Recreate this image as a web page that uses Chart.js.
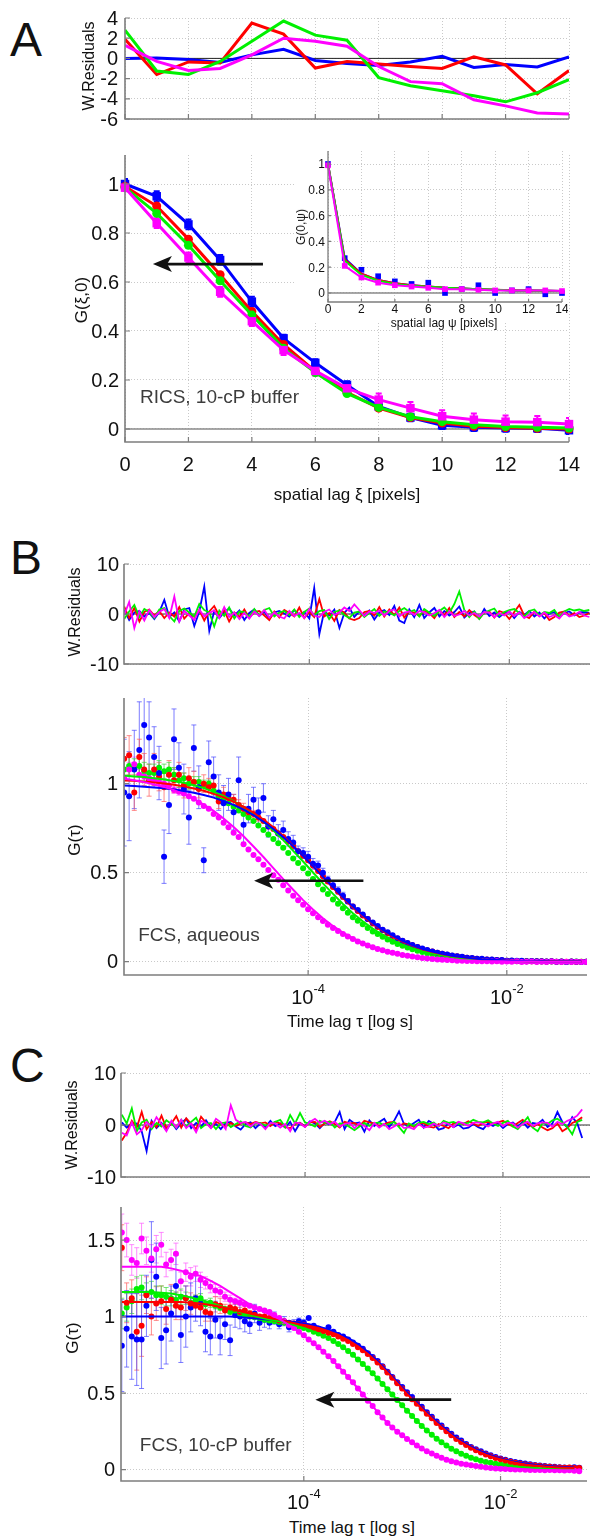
<!DOCTYPE html>
<html><head><meta charset="utf-8">
<script src="https://cdn.jsdelivr.net/npm/chart.js@4.4.1/dist/chart.umd.min.js"></script>
<style>
html,body{margin:0;padding:0;background:#fff}
body{width:591px;height:1538px;position:relative;overflow:hidden;font-family:"Liberation Sans",Arial,sans-serif}
canvas{position:absolute}
.t{position:absolute;white-space:nowrap;color:#111;z-index:5;line-height:1}
.r{transform:translate(-50%,-50%) rotate(-90deg)}
.h{transform:translate(-50%,-50%)}
.L{position:absolute;font-size:48px;line-height:1;color:#111;left:10px}
</style></head><body>
<div class="L" style="top:16px">A</div>
<div class="L" style="top:534px">B</div>
<div class="L" style="top:1042px">C</div>
<div class="t r" style="left:89px;top:66px;font-size:16px">W.Residuals</div>
<div class="t r" style="left:81px;top:300px;font-size:17px">G(ξ,0)</div>
<div class="t h" style="left:347px;top:494px;font-size:17px">spatial lag ξ [pixels]</div>
<div class="t r" style="left:301px;top:227px;font-size:12px">G(0,ψ)</div>
<div class="t h" style="left:444px;top:323px;font-size:12px">spatial lag ψ [pixels]</div>
<div class="t r" style="left:75px;top:612px;font-size:16px">W.Residuals</div>
<div class="t r" style="left:74px;top:840px;font-size:17px">G(τ)</div>
<div class="t h" style="left:350px;top:1021px;font-size:17px">Time lag τ [log s]</div>
<div class="t r" style="left:72px;top:1125px;font-size:16px">W.Residuals</div>
<div class="t r" style="left:72px;top:1338px;font-size:17px">G(τ)</div>
<div class="t h" style="left:352px;top:1527px;font-size:17px">Time lag τ [log s]</div>
<script>
// ---------- Panel A: RICS ----------
const xsA = [0,1,2,3,4,5,6,7,8,9,10,11,12,13,14];
const rABlue  = [0,0.05,-0.1,-0.4,0.35,0.9,-0.2,-0.5,-0.7,-0.35,0.2,-0.9,-0.6,-0.85,0.15];
const rARed   = [1.9,-1.6,-0.35,-0.45,3.5,2.4,-0.95,-0.3,-0.55,-0.8,-1.0,0.15,-0.65,-3.5,-1.2];
const rAGreen = [2.8,-1.25,-1.6,-0.3,1.7,3.7,2.3,1.8,-1.9,-2.7,-3.2,-3.7,-4.3,-3.4,-2.1];
const rAMag   = [1.3,-0.3,-1.2,-1.0,0.35,2.0,1.7,1.2,-0.8,-2.3,-2.5,-4.1,-4.7,-5.4,-5.5];
const aBlue  = [1.0,0.95,0.835,0.69,0.52,0.37,0.27,0.18,0.092,0.047,0.015,0.007,0.004,0.003,-0.005];
const aRed   = [0.99,0.91,0.775,0.63,0.48,0.345,0.235,0.15,0.085,0.047,0.024,0.011,0.006,0.003,0.0];
const aGreen = [0.985,0.88,0.75,0.605,0.465,0.33,0.23,0.145,0.088,0.05,0.03,0.017,0.01,0.007,0.004];
const aMag   = [0.985,0.84,0.70,0.56,0.44,0.322,0.237,0.166,0.12,0.085,0.052,0.038,0.03,0.028,0.02];
const eABlue = [0.02,0.02,0.02,0.02,0.02,0.015,0.015,0.015,0.015,0.015,0.015,0.015,0.015,0.015,0.015];
const eAMag  = [0.015,0.02,0.02,0.02,0.02,0.02,0.02,0.02,0.025,0.025,0.025,0.025,0.025,0.025,0.025];
const inBlueM  = [1.0,0.27,0.18,0.13,0.09,0.07,0.08,0.0,0.03,0.06,0.0,0.02,0.03,-0.01,0.0];
const inBlueL  = [1.0,0.27,0.15,0.10,0.075,0.06,0.05,0.04,0.035,0.03,0.025,0.02,0.02,0.018,0.015];
const inRedL   = [1.0,0.26,0.15,0.10,0.075,0.06,0.05,0.04,0.035,0.03,0.025,0.022,0.02,0.018,0.015];
const inGreenL = [1.0,0.25,0.14,0.095,0.07,0.057,0.048,0.04,0.035,0.03,0.025,0.02,0.02,0.018,0.015];
const inMag    = [0.99,0.21,0.12,0.08,0.06,0.05,0.04,0.03,0.03,0.025,0.02,0.02,0.02,0.02,0.015];

// ---------- FCS lag times (s) ----------
const tau = [1.41e-6,1.58e-6,1.78e-6,2.00e-6,2.24e-6,2.51e-6,2.82e-6,3.16e-6,3.55e-6,3.98e-6,
 4.47e-6,5.01e-6,5.62e-6,6.31e-6,7.08e-6,7.94e-6,8.91e-6,1.00e-5,
 1.12e-5,1.26e-5,1.41e-5,1.58e-5,1.78e-5,2.00e-5,2.24e-5,2.51e-5,2.82e-5,3.16e-5,3.55e-5,3.98e-5,4.47e-5,5.01e-5,5.62e-5,6.31e-5,7.08e-5,7.94e-5,8.91e-5,
 1.00e-4,1.12e-4,1.26e-4,1.41e-4,1.58e-4,1.78e-4,2.00e-4,2.24e-4,2.51e-4,2.82e-4,3.16e-4,3.55e-4,3.98e-4,4.47e-4,5.01e-4,5.62e-4,6.31e-4,7.08e-4,7.94e-4,8.91e-4,
 1.00e-3,1.12e-3,1.26e-3,1.41e-3,1.58e-3,1.78e-3,2.00e-3,2.24e-3,2.51e-3,2.82e-3,3.16e-3,3.55e-3,3.98e-3,4.47e-3,5.01e-3,5.62e-3,6.31e-3,7.08e-3,7.94e-3,8.91e-3,
 1.00e-2,1.12e-2,1.26e-2,1.41e-2,1.58e-2,1.78e-2,2.00e-2,2.24e-2,2.51e-2,2.82e-2,3.16e-2,3.55e-2,3.98e-2,4.47e-2,5.01e-2,5.62e-2,6.31e-2];
const tauFit = [1.41e-6,1.78e-6,2.24e-6,2.82e-6,3.55e-6,4.47e-6,5.62e-6,7.08e-6,8.91e-6,
 1.12e-5,1.41e-5,1.78e-5,2.24e-5,2.82e-5,3.55e-5,4.47e-5,5.62e-5,7.08e-5,8.91e-5,
 1.12e-4,1.41e-4,1.78e-4,2.24e-4,2.82e-4,3.55e-4,4.47e-4,5.62e-4,7.08e-4,8.91e-4,
 1.12e-3,1.41e-3,1.78e-3,2.24e-3,2.82e-3,3.55e-3,4.47e-3,5.62e-3,7.08e-3,8.91e-3,
 1.12e-2,1.41e-2,1.78e-2,2.24e-2,2.82e-2,3.55e-2,4.47e-2,5.62e-2];

// ---------- Panel B: FCS aqueous ----------
const gBBlue = [0.95,0.93,1.08,1.19,1.33,1.26,1.15,1.06,0.59,0.88,
 1.25,1.09,0.97,0.81,1.20,0.98,0.57,1.12,1.04,0.95,
 0.89,0.94,0.84,1.02,0.77,0.86,0.91,0.84,0.92,0.76,
 0.80,0.72,0.74,0.69,0.67,0.62,0.61,0.59,0.55,0.54,
 0.50,0.46,0.43,0.40,0.37,0.34,0.31,0.29,0.265,0.24,
 0.22,0.20,0.18,0.165,0.148,0.132,0.118,0.105,0.094,0.083,
 0.074,0.066,0.058,0.051,0.045,0.040,0.035,0.031,0.028,0.022,
 0.021,0.017,0.016,0.013,0.012,0.010,0.009,0.006,0.007,0.005,
 0.006,0.003,0.004,0.002,0.003,0.001,0.002,0.0,0.001,-0.001,
 0.001,0.0,-0.001,0.0];
const eBBlue = [0.3,0.25,0.22,0.27,0.26,0.2,0.17,0.15,0.15,0.16,0.17,0.14,0.14,0.15,0.13,0.12,0.07,0.12,0.11,0.1,
 0.1,0.09,0.1,0.13,0.1,0.08,0.07,0.08,0.08,0.06,0.05,0.05,0.05,0.04,0.04,0.03,0.03,0.03,0.03,0.025,0.025,0.02,0.02,0.02,0.02,0.015];
const gBRed = [1.14,1.16,0.95,1.15,1.08,1.02,1.08,1.04,0.98,1.05,
 1.02,1.05,0.99,1.03,1.01,0.97,1.0,0.98,0.99,0.90,
 0.94,0.92,0.91,0.88,0.86,0.84,0.83,0.81,0.79,0.76,
 0.745,0.72,0.70,0.675,0.65,0.62,0.595,0.57,0.54,0.51,
 0.48,0.45,0.42,0.395,0.365,0.34,0.31,0.285,0.26,0.24,
 0.215,0.195,0.177,0.16,0.145,0.13,0.116,0.103,0.092,0.082,
 0.072,0.064,0.057,0.05,0.044,0.039,0.034,0.03,0.026,0.022,
 0.02,0.017,0.014,0.013,0.011,0.009,0.008,0.006,0.006,0.004,
 0.004,0.003,0.003,0.002,0.002,0.001,0.002,0.0,0.001,0.0,
 0.001,-0.001,0.0,0.0];
const eBRed = [0.12,0.11,0.1,0.1,0.09,0.09,0.09,0.08,0.08,0.08,0.07,0.07,0.07,0.06,0.06,0.05,0.05,0.05,0.04,0.04,0.04,0.03,0.03,0.03,0.03,0.02,0.02,0.02];
const gBGreen = [1.08,1.10,1.09,1.10,1.07,1.06,1.06,1.09,1.07,1.08,
 1.05,1.02,1.03,1.0,1.01,1.01,0.99,1.0,0.96,0.93,
 0.91,0.89,0.87,0.85,0.83,0.81,0.79,0.765,0.74,0.715,
 0.69,0.665,0.64,0.61,0.58,0.555,0.525,0.495,0.465,0.435,
 0.405,0.38,0.35,0.325,0.30,0.275,0.25,0.23,0.21,0.19,
 0.17,0.155,0.14,0.125,0.112,0.10,0.09,0.08,0.07,0.062,
 0.055,0.048,0.042,0.037,0.033,0.029,0.025,0.022,0.019,0.016,
 0.014,0.012,0.010,0.009,0.007,0.006,0.005,0.005,0.004,0.003,
 0.003,0.002,0.002,0.001,0.001,0.0,0.001,0.0,0.0,-0.001,
 0.0,0.001,0.0,0.0];
const eBGreen = [0.06,0.06,0.05,0.05,0.05,0.05,0.05,0.04,0.04,0.04,0.04,0.04,0.03,0.03,0.03,0.03,0.03,0.02,0.02,0.02];
const gBMag = [1.03,1.08,1.11,1.05,1.04,1.03,1.02,1.01,1.0,0.99,
 0.965,0.955,0.945,0.93,0.915,0.895,0.875,0.86,0.83,0.81,
 0.78,0.755,0.725,0.70,0.66,0.63,0.60,0.575,0.545,0.515,
 0.485,0.46,0.43,0.40,0.37,0.345,0.32,0.295,0.272,0.25,
 0.228,0.208,0.19,0.172,0.156,0.141,0.127,0.114,0.102,0.091,
 0.081,0.072,0.064,0.056,0.05,0.044,0.038,0.033,0.029,0.025,
 0.021,0.018,0.015,0.013,0.011,0.009,0.008,0.006,0.005,0.004,
 0.004,0.003,0.002,0.003,0.001,0.002,0.0,0.001,0.0,0.002,
 -0.001,0.0,0.001,-0.002,0.0,-0.001,0.001,0.0,-0.002,0.0,
 -0.001,0.0,-0.002,-0.001];
const eBMag = [0.04,0.04,0.04,0.03,0.03,0.03,0.03,0.03,0.02,0.02,0.02,0.02];
const fBBlue = [0.990,0.987,0.983,0.979,0.974,0.968,0.959,0.949,0.937,0.922,0.903,0.881,0.854,0.823,0.787,0.746,0.700,0.649,0.594,0.537,
 0.478,0.420,0.364,0.311,0.262,0.218,0.179,0.146,0.117,0.093,0.073,0.057,0.044,0.034,0.026,0.019,0.014,0.011,0.008,0.006,
 0.004,0.003,0.002,0.0015,0.001,0.001,0.0005];
const fBRed = [1.018,1.016,1.011,1.007,1.001,0.994,0.985,0.973,0.96,0.943,0.924,0.899,0.870,0.837,0.798,0.755,0.706,0.652,0.594,0.536,
 0.475,0.415,0.358,0.305,0.255,0.212,0.174,0.141,0.113,0.090,0.070,0.055,0.042,0.032,0.025,0.019,0.013,0.010,0.007,0.005,
 0.004,0.003,0.002,0.002,0.001,0.001,0.001];
const fBGreen = [1.046,1.041,1.037,1.031,1.024,1.015,1.005,0.991,0.975,0.954,0.931,0.902,0.869,0.83,0.787,0.737,0.683,0.623,0.563,0.501,
 0.44,0.381,0.324,0.272,0.227,0.186,0.151,0.121,0.096,0.076,0.059,0.046,0.035,0.027,0.020,0.015,0.011,0.008,0.006,0.004,
 0.003,0.002,0.002,0.001,0.001,0.001,0.0];
const fBMag = [1.028,1.02,1.009,0.996,0.982,0.964,0.941,0.915,0.883,0.847,0.805,0.757,0.705,0.647,0.588,0.526,0.464,0.404,0.346,0.293,
 0.244,0.201,0.164,0.133,0.106,0.084,0.066,0.051,0.039,0.030,0.022,0.017,0.013,0.010,0.006,0.005,0.003,0.002,0.002,0.001,
 0.001,0.001,0,0,0,0,0];
const rBBlue = [0.8,-1.2,0.3,0.6,-0.5,0.2,-1.0,0.4,2.8,-0.6, 0.3,-1.5,0.9,1.2,-2.4,0.5,5.5,-3.4,0.6,-0.8,
 0.4,1.1,-0.3,0.7,-1.2,0.2,0.9,-0.4,0.5,-1.0, 0.3,0.6,0.1,-0.5,0.8,-0.2,0.4,-0.9,5.2,-4.0,
 0.6,-0.3,0.9,-2.8,0.2,1.3,-0.6,0.5,-0.4,0.7, -1.1,0.3,0.8,-0.2,1.6,-1.3,-1.8,0.9,-0.6,1.8,
 -0.8,0.3,1.2,-0.5,0.6,-0.3,0.4,1.5,-0.7,0.2, 0.5,-0.9,1.0,-0.4,0.3,-0.6,0.2,0.5,-0.8,0.4,
 -0.2,0.6,-0.5,0.3,-0.9,0.1,0.4,-0.6,0.2,0.5, -0.3,0.3,0.4,0.2];
const rBRed = [1.5,-0.8,1.2,-1.5,0.4,0.9,-0.3,0.6,-0.8,0.3, -0.5,1.4,-0.9,0.2,-0.6,0.8,-1.3,0.5,1.6,-0.4,
 0.7,-1.5,0.3,-0.6,0.9,-0.8,0.4,0.6,-0.3,-1.2, 0.5,-0.7,0.8,0.2,-0.5,1.3,-0.8,0.4,-0.6,3.0,
 -0.5,0.2,-1.4,0.8,0.3,-0.9,-1.2,-0.8,0.4,0.6, -0.3,1.4,-0.5,0.9,-0.2,1.3,-0.7,0.5,0.3,-0.4,
 0.6,0.2,-0.8,0.7,-0.3,1.2,-0.6,0.4,-0.5,0.8, -0.2,-0.9,0.3,0.5,-0.7,0.6,0.2,-1.0,0.4,1.8,
 -0.3,-0.8,0.5,-0.4,0.2,-1.2,-0.6,0.3,0.5,-0.4, 0.2,-0.6,-0.3,0.2];
const rBGreen = [-1.0,0.5,1.8,-0.6,1.0,0.4,-0.8,0.9,1.2,-0.4, -1.5,0.6,1.1,0.3,-0.5,2.0,0.8,0.3,-2.5,0.7,
 -0.4,1.3,-0.9,0.5,0.4,-0.6,1.0,-0.3,0.8,1.2, -0.5,0.3,0.6,-0.2,0.9,-0.6,0.4,1.1,-0.3,0.6,
 0.8,-1.0,0.4,0.7,-0.2,-0.8,0.3,0.5,-0.6,0.2, 1.0,-0.4,0.5,0.3,-0.3,0.6,1.2,0.4,0.8,-0.5,
 1.0,0.3,-0.4,0.6,1.3,0.2,2.0,4.5,0.8,-0.6, 0.5,-1.0,0.3,0.7,1.1,-0.3,0.4,0.8,1.0,0.2,
 -0.5,0.6,0.9,-0.3,0.4,0.2,0.8,-0.6,0.5,1.0, 0.7,0.9,0.6,0.8];
const rBMag = [-0.2,2.4,-2.8,0.5,-1.3,0.8,-0.6,0.4,1.0,-0.8, 3.5,-1.5,0.6,-0.3,-1.2,0.9,-0.5,0.2,0.7,-0.8,
 1.4,-0.6,0.3,-1.0,0.2,-0.9,0.5,-0.4,0.8,-0.7, 0.3,-0.5,-0.9,0.6,-0.4,0.2,-0.8,1.0,-0.3,-0.6,
 0.4,0.9,-0.2,0.3,1.3,0.6,1.9,0.8,-0.4,0.5, 0.2,0.7,-0.3,0.6,0.9,-0.5,0.3,0.5,-0.2,0.6,
 0.4,-0.3,0.2,0.8,-0.6,0.5,-0.4,-0.1,0.6,-0.3, 0.2,-0.5,0.4,0.3,-0.6,0.2,-0.3,0.5,-0.4,0.3,
 -0.8,-0.2,0.4,-0.5,0.3,-0.6,-0.2,-0.9,0.3,-0.5, -0.2,0.4,-0.3,-0.6];

// ---------- Panel C: FCS 10-cP buffer ----------
const gCBlue = [0.81,0.92,0.87,0.85,0.85,1.07,1.37,1.26,0.86,0.91,
 1.02,1.20,0.88,1.0,1.06,1.12,1.09,0.90,0.87,0.98,
 0.87,0.95,0.845,1.01,1.0,0.97,0.95,1.02,0.96,0.98,
 0.96,0.99,0.95,0.97,0.93,0.95,0.97,0.96,0.99,0.94,
 0.92,0.91,0.93,0.90,0.88,0.87,0.85,0.83,0.81,0.79,
 0.76,0.735,0.71,0.675,0.64,0.605,0.57,0.54,0.505,0.475,
 0.44,0.41,0.375,0.345,0.315,0.288,0.26,0.235,0.21,0.19,
 0.168,0.148,0.133,0.12,0.105,0.094,0.083,0.073,0.065,0.057,
 0.05,0.045,0.04,0.035,0.03,0.027,0.024,0.02,0.018,0.015,
 0.014,0.012,0.016,0.012];
const eCBlue = [0.3,0.25,0.28,0.3,0.32,0.2,0.25,0.22,0.2,0.22,0.18,0.2,0.18,0.2,0.16,0.15,0.15,0.13,0.12,0.12,
 0.12,0.1,0.1,0.08,0.08,0.07,0.06,0.06,0.05,0.05,0.04,0.04,0.03,0.03,0.03,0.03,0.02,0.02];
const gCRed = [1.45,1.09,1.12,0.90,0.94,1.14,1.0,1.085,1.10,1.05,
 1.11,1.07,1.06,1.12,1.085,1.07,1.06,1.03,1.02,1.08,
 1.07,1.04,1.06,1.05,1.03,1.04,1.02,1.01,1.0,1.0,
 0.99,0.985,0.975,0.97,0.96,0.955,0.95,0.945,0.935,0.925,
 0.915,0.905,0.895,0.885,0.87,0.855,0.84,0.82,0.80,0.78,
 0.755,0.73,0.70,0.67,0.635,0.60,0.565,0.53,0.495,0.46,
 0.43,0.40,0.365,0.335,0.305,0.278,0.25,0.225,0.20,0.18,
 0.16,0.142,0.126,0.112,0.098,0.087,0.076,0.067,0.059,0.051,
 0.045,0.039,0.034,0.03,0.026,0.023,0.02,0.018,0.016,0.014,
 0.012,0.014,0.011,0.01];
const eCRed = [0.15,0.13,0.12,0.25,0.2,0.12,0.12,0.11,0.1,0.1,0.1,0.09,0.08,0.08,0.07,0.07,0.06,0.06,0.05,0.05,0.05,0.04,0.04,0.03,0.03,0.03,0.02];
const gCGreen = [1.02,1.06,1.10,1.18,1.19,1.15,1.16,1.14,1.14,1.13,
 1.12,1.11,1.13,1.12,1.09,1.10,1.12,1.08,1.09,1.07,
 1.06,1.05,1.03,1.04,1.02,1.01,1.0,0.995,0.99,0.98,
 0.975,0.97,0.965,0.96,0.955,0.945,0.935,0.925,0.915,0.90,
 0.89,0.875,0.86,0.84,0.82,0.80,0.775,0.75,0.72,0.69,
 0.66,0.63,0.595,0.56,0.525,0.49,0.455,0.42,0.385,0.35,
 0.318,0.285,0.255,0.228,0.202,0.178,0.157,0.137,0.12,0.104,
 0.09,0.078,0.068,0.058,0.05,0.044,0.038,0.033,0.028,0.024,
 0.021,0.018,0.015,0.013,0.011,0.009,0.008,0.006,0.005,0.005,
 0.004,0.003,0.003,0.002];
const eCGreen = [0.1,0.09,0.08,0.08,0.08,0.07,0.07,0.06,0.06,0.06,0.05,0.05,0.05,0.04,0.04,0.04,0.03,0.03,0.03,0.02,0.02];
const gCMag = [1.55,1.50,1.37,1.35,1.51,1.43,1.38,1.44,1.47,1.34,
 1.37,1.41,1.23,1.29,1.26,1.28,1.24,1.22,1.195,1.17,
 1.16,1.13,1.11,1.10,1.09,1.08,1.07,1.06,1.05,1.04,
 1.03,1.01,0.99,0.97,0.945,0.925,0.90,0.878,0.85,0.825,
 0.80,0.77,0.74,0.71,0.675,0.64,0.605,0.57,0.53,0.49,
 0.45,0.415,0.375,0.34,0.305,0.275,0.248,0.225,0.2,0.178,
 0.157,0.138,0.12,0.105,0.09,0.077,0.065,0.055,0.046,0.039,
 0.033,0.028,0.023,0.018,0.014,0.011,0.008,0.006,0.004,0.003,
 0.001,0.0,-0.001,-0.002,-0.003,-0.002,-0.004,-0.003,-0.005,-0.004,
 -0.006,-0.005,-0.008,-0.01];
const eCMag = [0.12,0.11,0.1,0.1,0.1,0.09,0.09,0.09,0.08,0.08,0.07,0.07,0.06,0.06,0.06,0.05,0.05,0.04,0.04,0.04,0.03,0.03,0.03,0.02,0.02];
const fCBlue = [1,1,1,1,1,1,1,1,1,1,1,1,
 0.995,0.99,0.985,0.98,0.975,0.97,0.96,0.95,0.935,0.915,0.89,0.86,0.82,0.77,0.71,0.645,0.575,0.505,0.44,0.375,
 0.315,0.26,0.21,0.168,0.133,0.105,0.083,0.065,0.05,0.04,0.031,0.025,0.02,0.016,0.013];
const fCRed = [1.096,1.096,1.096,1.096,1.096,1.096,1.096,
 1.09,1.085,1.075,1.065,1.05,1.035,1.02,1.005,0.99,0.98,0.965,0.95,0.94,0.925,0.905,0.88,0.845,0.805,0.755,0.70,
 0.635,0.565,0.495,0.43,0.365,0.305,0.25,0.2,0.16,0.126,0.098,0.076,0.059,0.045,0.034,0.026,0.02,0.016,0.012,0.011];
const fCGreen = [1.16,1.16,1.16,1.16,
 1.155,1.15,1.14,1.125,1.11,1.09,1.07,1.05,1.03,1.01,0.995,0.98,0.97,0.955,0.935,0.915,0.89,0.86,0.82,0.775,
 0.72,0.66,0.595,0.525,0.455,0.385,0.318,0.255,0.202,0.157,0.12,0.09,0.068,0.05,0.038,0.028,0.021,0.015,0.011,0.008,
 0.005,0.004,0.003];
const fCMag = [1.325,1.325,1.325,1.325,1.325,
 1.315,1.30,1.28,1.265,1.235,1.20,1.16,1.12,1.08,1.045,1.015,0.985,0.945,0.90,0.85,0.80,0.74,0.675,0.605,0.53,
 0.455,0.375,0.305,0.248,0.2,0.157,0.12,0.09,0.065,0.046,0.033,0.023,0.015,0.008,0.005,0.002,0.0,-0.001,-0.002,-0.003,
 -0.004,-0.005];
const rCBlue = [0.5,-0.5,0.2,0.3,-1.2,-5.0,0.8,-0.6,0.4,-1.0, 0.5,-0.8,0.3,1.2,-0.6,0.4,-0.3,0.9,-0.5,0.2,
 -0.8,0.4,0.6,-0.3,-0.9,0.2,0.5,-0.6,0.3,-0.4, 0.8,-0.2,0.3,-0.5,0.6,-1.2,0.4,-0.3,0.7,0.3,
 -0.6,0.4,0.2,0.6,2.5,-0.8,1.0,0.3,0.5,-1.3, 0.9,-0.2,0.6,1.2,-0.4,0.8,2.6,0.2,-0.3,0.4,
 1.0,-0.5,0.8,0.2,-0.9,-0.6,0.3,-0.4,0.1,-0.7, -0.5,0.2,-0.4,-0.8,0.3,-0.2,0.4,-0.6,0.2,0.5,
 -0.3,0.6,-0.5,0.4,0.2,1.0,-0.4,0.3,2.5,0.6, -0.5,1.5,0.4,-2.5];
const rCRed = [-3.0,-1.5,0.8,-0.5,2.5,-0.8,0.6,-0.4,1.8,-0.6, 0.3,1.7,-0.5,1.3,0.2,-0.8,1.6,0.4,-0.5,0.6,
 0.2,-0.3,0.4,-0.2,0.3,0.5,0.2,0.6,0.3,0.5, -0.2,0.6,0.3,-0.4,-0.6,0.2,0.4,-0.3,0.5,0.6,
 -0.4,0.3,0.7,0.2,-0.5,0.6,0.3,0.4,-0.2,0.8, 0.5,0.3,-0.3,0.2,0.5,0.6,-0.2,0.3,0.1,-0.4,
 0.2,0.4,-0.3,-0.5,0.2,-0.2,-0.6,0.3,0.5,0.2, 0.7,0.3,-0.2,0.4,0.6,0.3,0.5,0.8,0.2,-0.3,
 0.4,1.0,0.3,-0.4,0.2,-0.5,-1.0,-0.6,0.3,-1.2, -0.6,0.4,0.8,1.5];
const rCGreen = [2.0,0.3,3.2,-1.2,0.5,1.0,-0.8,0.4,-0.3,0.9, 0.2,-0.5,1.0,-0.3,0.6,1.4,-0.6,0.2,0.4,-0.8,
 0.3,0.5,-0.4,0.2,0.7,-0.2,-0.5,0.4,0.3,-0.1, 0.2,0.6,1.0,-0.4,1.9,0.3,2.3,0.5,0.2,-0.3,
 0.8,0.4,0.6,-0.5,0.3,0.2,-0.4,-1.0,-0.3,0.4, -0.2,0.3,0.5,-0.1,0.2,0.6,-0.4,-1.5,0.3,-0.2,
 0.4,0.6,0.2,0.5,-0.3,0.8,0.4,0.6,0.2,0.3, 0.4,1.0,0.6,0.5,0.9,0.3,-0.2,0.4,0.8,-0.3,
 -0.8,0.3,1.5,-0.5,-1.2,0.4,0.2,0.9,1.2,0.5, -0.4,-1.8,0.6,1.0];
const rCMag = [-1.5,-2.0,0.5,-1.8,-1.0,0.6,-0.4,1.5,0.2,-1.2, 0.8,-0.5,1.0,-0.6,0.3,-1.4,0.8,0.4,-0.6,1.2,
 0.5,-0.8,3.8,1.0,0.4,0.6,-0.3,0.5,0.2,-0.8, 0.4,0.3,-0.5,0.2,-1.2,0.5,0.3,-0.4,0.6,1.2,
 0.4,0.8,0.2,0.6,-0.3,0.2,0.4,-0.6,0.3,-0.2, -1.0,0.4,-0.5,0.2,-0.8,-0.3,0.3,-0.6,-0.4,-0.8,
 0.2,-0.5,-0.3,0.3,-0.2,0.5,0.2,-0.4,0.6,0.3, -0.2,0.4,0.5,0.2,-0.3,0.3,0.6,-0.2,0.4,0.3,
 -0.5,0.2,0.6,-0.2,0.3,0.5,0.4,-0.3,0.6,0.2, 0.8,1.2,1.8,3.0];

// ---------- tick values ----------
const ticksA = [0,2,4,6,8,10,12,14];
const ticksRA = [-6,-4,-2,0,2,4];
const ticksG01 = [0,0.2,0.4,0.6,0.8,1];
const ticksR10 = [-10,0,10];
const ticksGB = [0,0.5,1];
const ticksGC = [0,0.5,1,1.5];
const ticksLog = [1e-4,1e-2];
const supLabels = [{v:1e-4,e:'-4'},{v:1e-2,e:'-2'}];

// ---------- drawing helpers ----------
const FONT = '"Liberation Sans", Arial, sans-serif';
const COL = {blue:'#0000ff', red:'#ff0000', green:'#00f000', mag:'#ff00ff'};
const ERR = {blue:'rgba(70,70,255,0.7)', red:'rgba(255,90,90,0.7)', green:'rgba(60,220,60,0.7)', mag:'rgba(255,90,255,0.7)'};
const pts = (xs, ys) => ys.map((y,i) => ({x:xs[i], y:y}));
const fmtNum = v => String(v);

function deco(P){
  return {
    id:'deco',
    beforeDatasetsDraw(ch){
      const ctx=ch.ctx, a=ch.chartArea, xs=ch.scales.x, ys=ch.scales.y;
      ctx.save();
      ctx.beginPath(); ctx.rect(a.left,a.top,a.right-a.left,a.bottom-a.top); ctx.clip();
      if(P.zero){
        const y=ys.getPixelForValue(0);
        ctx.strokeStyle=P.zero.c; ctx.lineWidth=P.zero.w;
        ctx.beginPath(); ctx.moveTo(a.left,y); ctx.lineTo(a.right,y); ctx.stroke();
      }
      ch.data.datasets.forEach(ds=>{
        if(!ds.errors) return;
        ctx.strokeStyle=ds.errColor; ctx.lineWidth=ds.errWidth||1;
        const c=ds.cap||2;
        ds.data.forEach((p,i)=>{
          const e=ds.errors[i]; if(!e) return;
          const x=xs.getPixelForValue(p.x), y1=ys.getPixelForValue(p.y-e), y2=ys.getPixelForValue(p.y+e);
          ctx.beginPath();
          ctx.moveTo(x,y1); ctx.lineTo(x,y2);
          ctx.moveTo(x-c,y1); ctx.lineTo(x+c,y1);
          ctx.moveTo(x-c,y2); ctx.lineTo(x+c,y2);
          ctx.stroke();
        });
      });
      ctx.restore();
    },
    afterDraw(ch){
      const ctx=ch.ctx, a=ch.chartArea, xs=ch.scales.x, ys=ch.scales.y;
      ctx.save();
      ctx.strokeStyle='#7d7d7d'; ctx.lineWidth=P.axisW||1.6;
      ctx.beginPath(); ctx.moveTo(a.left,a.top); ctx.lineTo(a.left,a.bottom); ctx.lineTo(a.right,a.bottom); ctx.stroke();
      const tl=P.tickLen||5;
      ctx.lineWidth=1.2;
      ctx.beginPath();
      P.x.ticks.forEach(v=>{const x=xs.getPixelForValue(v); ctx.moveTo(x,a.bottom); ctx.lineTo(x,a.bottom-tl);});
      P.y.ticks.forEach(v=>{const y=ys.getPixelForValue(v); ctx.moveTo(a.left,y); ctx.lineTo(a.left+tl,y);});
      ctx.stroke();
      ctx.fillStyle='#111';
      const fs=P.fs||20;
      if(P.y.fmt){
        ctx.font=fs+'px '+FONT; ctx.textAlign='right'; ctx.textBaseline='middle';
        P.y.ticks.forEach(v=>ctx.fillText(P.y.fmt(v), a.left-(P.y.off||6), ys.getPixelForValue(v)+1));
      }
      if(P.x.fmt){
        ctx.font=fs+'px '+FONT; ctx.textAlign='center'; ctx.textBaseline='middle';
        P.x.ticks.forEach(v=>ctx.fillText(P.x.fmt(v), xs.getPixelForValue(v), a.bottom+P.x.off));
      }
      if(P.x.sup){
        ctx.textAlign='left'; ctx.textBaseline='middle';
        P.x.sup.forEach(s=>{
          ctx.font=fs+'px '+FONT; const w1=ctx.measureText('10').width;
          ctx.font='13px '+FONT; const w2=ctx.measureText(s.e).width;
          const x0=xs.getPixelForValue(s.v)-(w1+w2)/2, y=a.bottom+P.x.off;
          ctx.font=fs+'px '+FONT; ctx.fillText('10',x0,y);
          ctx.font='13px '+FONT; ctx.fillText(s.e,x0+w1,y-9);
        });
      }
      (P.arrows||[]).forEach(ar=>{
        const xt=xs.getPixelForValue(ar.tail), xh=xs.getPixelForValue(ar.head), y=ys.getPixelForValue(ar.y);
        const L=19, W=8;
        ctx.strokeStyle='#111'; ctx.fillStyle='#111'; ctx.lineWidth=2.6;
        ctx.beginPath(); ctx.moveTo(xt,y); ctx.lineTo(xh+L*0.7,y); ctx.stroke();
        ctx.beginPath(); ctx.moveTo(xh,y); ctx.lineTo(xh+L,y-W); ctx.lineTo(xh+L*0.75,y); ctx.lineTo(xh+L,y+W); ctx.closePath(); ctx.fill();
      });
      (P.texts||[]).forEach(t=>{
        ctx.font=t.fs+'px '+FONT; ctx.fillStyle=t.c||'#3c3c3c'; ctx.textAlign='left'; ctx.textBaseline='middle';
        ctx.fillText(t.t, xs.getPixelForValue(t.x), ys.getPixelForValue(t.y));
      });
      ctx.restore();
    }
  };
}

function panel(P){
  const cv=document.createElement('canvas');
  cv.width=P.cv.w; cv.height=P.cv.h;
  cv.style.left=P.cv.x+'px'; cv.style.top=P.cv.y+'px';
  if(P.bg) cv.style.background=P.bg;
  if(P.z) cv.style.zIndex=P.z;
  document.body.appendChild(cv);
  const a=P.area;
  const sc=(s,vert)=>({
    type:s.type||'linear', min:s.min, max:s.max, position: vert?'left':'bottom',
    ticks:{display:false},
    grid:{color:'#c9c9c9', lineWidth:1, drawTicks:false, tickLength:0},
    border:{display:false, dash:[1,2]},
    afterBuildTicks(scale){ scale.ticks=s.ticks.map(v=>({value:v})); },
    afterFit(scale){ if(vert) scale.width=0; else scale.height=0; }
  });
  return new Chart(cv.getContext('2d'),{
    type:'scatter',
    data:{datasets:P.datasets},
    options:{
      responsive:false, animation:false, devicePixelRatio:1, events:[],
      layout:{padding:{left:a.l-P.cv.x, right:P.cv.x+P.cv.w-a.r, top:a.t-P.cv.y, bottom:P.cv.y+P.cv.h-a.b}},
      plugins:{legend:{display:false}, tooltip:{enabled:false}},
      scales:{x:sc(P.x,false), y:sc(P.y,true)}
    },
    plugins:[deco(P)]
  });
}
const lineDs = (xs,ys,c,w,order)=>({data:pts(xs,ys), showLine:true, borderColor:c, backgroundColor:c, borderWidth:w, pointRadius:0, order:order});
const dotDs = (xs,ys,c,errs,ec,order)=>({data:pts(xs,ys), showLine:false, backgroundColor:c, borderColor:c, pointRadius:3, pointBorderWidth:0, errors:errs, errColor:ec, cap:2.5, order:order});

// A residuals
panel({cv:{x:0,y:0,w:591,h:135}, area:{l:125,t:18,r:569,b:119},
  x:{min:0,max:14,ticks:ticksA}, y:{min:-6,max:4,ticks:ticksRA,fmt:fmtNum,off:7},
  zero:{c:'#222',w:1},
  datasets:[lineDs(xsA,rAMag,COL.mag,3,1), lineDs(xsA,rAGreen,COL.green,3,2), lineDs(xsA,rARed,COL.red,3,3), lineDs(xsA,rABlue,COL.blue,3,4)]});

// A main
panel({cv:{x:0,y:140,w:591,h:345}, area:{l:125,t:155,r:569,b:442},
  x:{min:0,max:14,ticks:ticksA,fmt:fmtNum,off:23}, y:{min:-0.0531,max:1.1184,ticks:ticksG01,fmt:fmtNum,off:6},
  zero:{c:'#8a8a8a',w:1.6},
  arrows:[{tail:4.35, head:0.88, y:0.673}],
  texts:[{x:0.47, y:0.127, t:'RICS, 10-cP buffer', fs:19}],
  datasets:[
   {data:pts(xsA,aMag), showLine:true, borderColor:COL.mag, backgroundColor:COL.mag, borderWidth:3, pointStyle:'rect', pointRadius:6, pointBorderWidth:0, errors:eAMag, errColor:COL.mag, cap:3, errWidth:2, order:1, clip:false},
   {data:pts(xsA,aGreen), showLine:true, borderColor:COL.green, backgroundColor:COL.green, borderWidth:3, pointRadius:4.5, pointBorderWidth:0, order:2, clip:false},
   {data:pts(xsA,aRed), showLine:true, borderColor:COL.red, backgroundColor:COL.red, borderWidth:3, pointRadius:4.5, pointBorderWidth:0, order:3, clip:false},
   {data:pts(xsA,aBlue), showLine:true, borderColor:COL.blue, backgroundColor:COL.blue, borderWidth:3, pointStyle:'rect', pointRadius:6, pointBorderWidth:0, errors:eABlue, errColor:COL.blue, cap:3, errWidth:2, order:4, clip:false}
  ]});

// A inset
panel({cv:{x:296,y:141,w:272,h:181}, area:{l:328,t:151,r:562,b:302}, bg:'#fff', z:3, fs:12, tickLen:3, axisW:1.3,
  x:{min:0,max:14,ticks:ticksA,fmt:fmtNum,off:8}, y:{min:-0.0698,max:1.1008,ticks:ticksG01,fmt:fmtNum,off:3},
  zero:{c:'#8a8a8a',w:1.3},
  datasets:[
   {data:pts(xsA,inMag), showLine:true, borderColor:COL.mag, backgroundColor:COL.mag, borderWidth:2, pointStyle:'rect', pointRadius:4, pointBorderWidth:0, order:1, clip:false},
   lineDs(xsA,inGreenL,COL.green,2,2),
   lineDs(xsA,inRedL,COL.red,2,3),
   lineDs(xsA,inBlueL,COL.blue,2,4),
   {data:pts(xsA,inBlueM), showLine:false, backgroundColor:COL.blue, pointStyle:'rect', pointRadius:4, pointBorderWidth:0, order:5, clip:false}
  ]});

// B residuals
panel({cv:{x:0,y:545,w:591,h:135}, area:{l:124,t:564,r:590,b:664},
  x:{type:'logarithmic',min:1.403e-6,max:6.41e-2,ticks:ticksLog}, y:{min:-10,max:10,ticks:ticksR10,fmt:fmtNum,off:5},
  zero:{c:'#333',w:1},
  datasets:[lineDs(tau,rBMag,COL.mag,1.8,1), lineDs(tau,rBGreen,COL.green,1.8,2), lineDs(tau,rBRed,COL.red,1.8,3), lineDs(tau,rBBlue,COL.blue,1.8,4)]});

// B main
panel({cv:{x:0,y:685,w:591,h:330}, area:{l:124,t:698,r:590,b:975},
  x:{type:'logarithmic',min:1.403e-6,max:6.41e-2,ticks:ticksLog,sup:supLabels,off:23}, y:{min:-0.0747,max:1.4815,ticks:ticksGB,fmt:fmtNum,off:6},
  arrows:[{tail:3.6e-4, head:2.86e-5, y:0.455}],
  texts:[{x:1.95e-6, y:0.144, t:'FCS, aqueous', fs:19}],
  datasets:[
   lineDs(tauFit,fBMag,COL.mag,2,1), lineDs(tauFit,fBBlue,COL.blue,2,2), lineDs(tauFit,fBRed,COL.red,2,3), lineDs(tauFit,fBGreen,COL.green,2,4),
   dotDs(tau,gBMag,COL.mag,eBMag,ERR.mag,5),
   dotDs(tau,gBBlue,COL.blue,eBBlue,ERR.blue,6),
   dotDs(tau,gBRed,COL.red,eBRed,ERR.red,7),
   dotDs(tau,gBGreen,COL.green,eBGreen,ERR.green,8)
  ]});

// C residuals
panel({cv:{x:0,y:1055,w:591,h:135}, area:{l:121,t:1073,r:590,b:1177},
  x:{type:'logarithmic',min:1.384e-6,max:7.57e-2,ticks:ticksLog}, y:{min:-10,max:10,ticks:ticksR10,fmt:fmtNum,off:5},
  zero:{c:'#333',w:1},
  datasets:[lineDs(tau,rCMag,COL.mag,1.8,1), lineDs(tau,rCGreen,COL.green,1.8,2), lineDs(tau,rCRed,COL.red,1.8,3), lineDs(tau,rCBlue,COL.blue,1.8,4)]});

// C main
panel({cv:{x:0,y:1192,w:591,h:325}, area:{l:121,t:1207,r:590,b:1481},
  x:{type:'logarithmic',min:1.384e-6,max:7.57e-2,ticks:ticksLog,sup:supLabels,off:22}, y:{min:-0.0745,max:1.716,ticks:ticksGC,fmt:fmtNum,off:6},
  arrows:[{tail:3.15e-3, head:1.31e-4, y:0.457}],
  texts:[{x:2.15e-6, y:0.159, t:'FCS, 10-cP buffer', fs:19}],
  datasets:[
   lineDs(tauFit,fCMag,COL.mag,2,1), lineDs(tauFit,fCRed,COL.red,2,2), lineDs(tauFit,fCGreen,COL.green,2,3), lineDs(tauFit,fCBlue,COL.blue,2,4),
   dotDs(tau,gCMag,COL.mag,eCMag,ERR.mag,5),
   dotDs(tau,gCRed,COL.red,eCRed,ERR.red,6),
   dotDs(tau,gCGreen,COL.green,eCGreen,ERR.green,7),
   dotDs(tau,gCBlue,COL.blue,eCBlue,ERR.blue,8)
  ]});
</script>
</body></html>
